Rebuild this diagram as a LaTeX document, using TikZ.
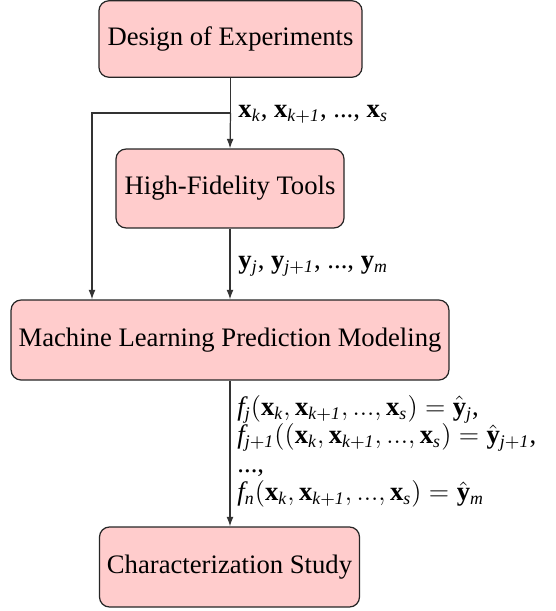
\documentclass[tikz,border=0pt]{standalone}
\usepackage{fontspec}
\setmainfont{Liberation Serif}
\usetikzlibrary{arrows.meta}
% italic and bold letters taken from the text font
\newcommand{\mi}[1]{\mathit{#1}}
\newcommand{\bvx}[1]{\mathbf{x}_{\mathit{#1}}}
\newcommand{\bvy}[1]{\mathbf{y}_{\mathit{#1}}}
\newcommand{\hvy}[1]{\hat{\mathbf{y}}_{\mathit{#1}}}
\tikzset{
  block/.style={draw=black!85, fill=red!20, rounded corners=4.5pt, line width=0.55pt,
    align=center, font=\fontsize{12}{14}\selectfont},
  flow/.style={draw=black!80, line width=0.55pt, -{Latex[length=4.3pt,width=3.1pt]}},
  wire/.style={draw=black!80, line width=0.55pt},
  lbl/.style={inner sep=0pt, font=\fontsize{12}{12.8}\selectfont, align=left},
}
\begin{document}
\begin{tikzpicture}[x=0.45pt,y=-0.45pt]
\useasboundingbox (0,0) rectangle (555,611);

% process boxes
\node[block, minimum width=118.4pt, minimum height=34.4pt] (doe) at (230.5,39) {Design of Experiments};
\node[block, minimum width=102.6pt, minimum height=35.5pt] (hft) at (230,188.5) {High-Fidelity Tools};
\node[block, minimum width=197pt, minimum height=36pt] (ml) at (230,340) {Machine Learning Prediction Modeling};
\node[block, minimum width=117pt, minimum height=36pt] (cs) at (229.5,567) {Characterization Study};

% split point of the design samples and the bypass corner
\coordinate (split) at (doe.south |- 0,113);
\coordinate (corner) at (92,113);

\draw[wire] (doe.south) -- (split);
\draw[flow] (split) -- (hft.north);
\draw[flow] (split) -- (corner) -- (corner |- ml.north);
\draw[flow] (hft.south) -- (hft.south |- ml.north);
\draw[flow] (ml.south) -- (ml.south |- cs.north);

% edge labels
\node[lbl, anchor=west] (xlab) at (238,114)
  {$\bvx{k}$, $\bvx{k+1}$, ..., $\bvx{s}$};
\node[lbl, anchor=west] (ylab) at (238,266)
  {$\bvy{j}$, $\bvy{j+1}$, ..., $\bvy{m}$};
\node[lbl, anchor=north west] (flab) at (237,395)
  {$\mi{f}_{\mi{j}}(\bvx{k}, \bvx{k+1}, ..., \bvx{s}) = \hvy{j}$,\\
   $\mi{f}_{\mi{j+1}}((\bvx{k}, \bvx{k+1}, ..., \bvx{s}) = \hvy{j+1}$,\\
   ...,\\
   $\mi{f}_{\mi{n}}(\bvx{k}, \bvx{k+1}, ..., \bvx{s}) = \hvy{m}$};
\end{tikzpicture}
\end{document}
